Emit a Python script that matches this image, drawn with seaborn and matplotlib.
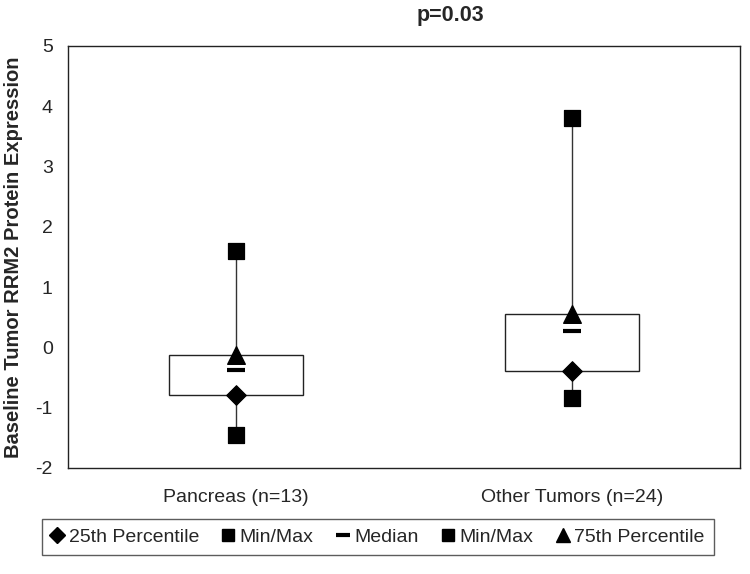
import matplotlib
matplotlib.use("Agg")
import matplotlib.pyplot as plt
import seaborn as sns
import pandas as pd
from matplotlib.lines import Line2D

sns.set_style("white")
plt.rcParams['font.family'] = ['Liberation Sans', 'DejaVu Sans']

categories = ["Pancreas (n=13)", "Other Tumors (n=24)"]
p_min = [-1.45, -0.84]
p25 = [-0.79, -0.39]
median = [-0.38, 0.27]
p75 = [-0.13, 0.55]
p_max = [1.60, 3.80]
title = "p=0.03"
ylabel = "Baseline Tumor RRM2 Protein Expression"
yticks = [-2, -1, 0, 1, 2, 3, 4, 5]

df = pd.DataFrame({"cat": categories, "min": p_min, "q25": p25,
                   "med": median, "q75": p75, "max": p_max})
df["pos"] = range(len(df))

fig = plt.figure(figsize=(7.5, 5.74), dpi=100)
ax = fig.add_axes([68/750, 1-468/574, 672/750, 422/574])

# whisker lines (min to max)
ax.vlines(df["pos"], df["min"], df["max"], color="#333333", lw=1.0, zorder=1)
# boxes from 25th to 75th percentile
ax.bar(df["pos"], df["q75"] - df["q25"], bottom=df["q25"], width=0.4,
       color="white", edgecolor="#222222", linewidth=1.0, zorder=2)

sns.scatterplot(data=df, x="pos", y="max", marker="s", s=125, color="black",
                edgecolor="black", ax=ax, zorder=3, legend=False)
sns.scatterplot(data=df, x="pos", y="min", marker="s", s=125, color="black",
                edgecolor="black", ax=ax, zorder=3, legend=False)
sns.scatterplot(data=df, x="pos", y="q25", marker="D", s=100, color="black",
                edgecolor="black", ax=ax, zorder=3, legend=False)
sns.scatterplot(data=df, x="pos", y="q75", marker="^", s=160, color="black",
                edgecolor="black", ax=ax, zorder=3, legend=False)
ax.plot(df["pos"], df["med"], ls="none", marker="_", ms=13, mew=3,
        color="black", zorder=3)

ax.set_xlim(-0.5, 1.5)
ax.set_ylim(-2, 5)
ax.set_yticks(yticks)
ax.set_yticklabels([str(t) for t in yticks], fontsize=14)
ax.set_xticks([-0.5, 0.5, 1.5])
ax.set_xticklabels([])
ax.tick_params(axis="x", which="major", direction="in", length=6, width=1, color="#333333")
ax.set_xticks([0, 1], minor=True)
ax.set_xticklabels(categories, minor=True, fontsize=14)
ax.tick_params(axis="x", which="minor", length=0, pad=15)
ax.tick_params(axis="y", direction="out", length=5, width=1, color="#333333", pad=6)
ax.set_xlabel("")
ax.set_ylabel(ylabel, fontsize=14.5, fontweight="bold")
ax.yaxis.set_label_coords(-(68 - 23) / 672, 0.5)
for sp in ax.spines.values():
    sp.set_color("#222222")
    sp.set_linewidth(1.0)

fig.text(450/750, 1-16/574, title, fontsize=15.5, fontweight="bold",
         ha="center", va="center")

handles = [
    Line2D([], [], ls="none", marker="D", ms=8, color="black"),
    Line2D([], [], ls="none", marker="s", ms=9, color="black"),
    Line2D([], [], ls="none", marker="_", ms=10, mew=3, color="black"),
    Line2D([], [], ls="none", marker="s", ms=9, color="black"),
    Line2D([], [], ls="none", marker="^", ms=10, color="black"),
]
labels = ["25th Percentile", "Min/Max", "Median", "Min/Max", "75th Percentile"]
leg = fig.legend(handles, labels, loc="center", bbox_to_anchor=(378/750, 1-537/574),
                 ncol=5, fontsize=14, frameon=True, fancybox=False,
                 handlelength=0.6, handletextpad=0.3, columnspacing=1.2,
                 borderpad=0.45, edgecolor="#333333")
leg.get_frame().set_linewidth(1.0)

fig.savefig("out.png", dpi=100)
